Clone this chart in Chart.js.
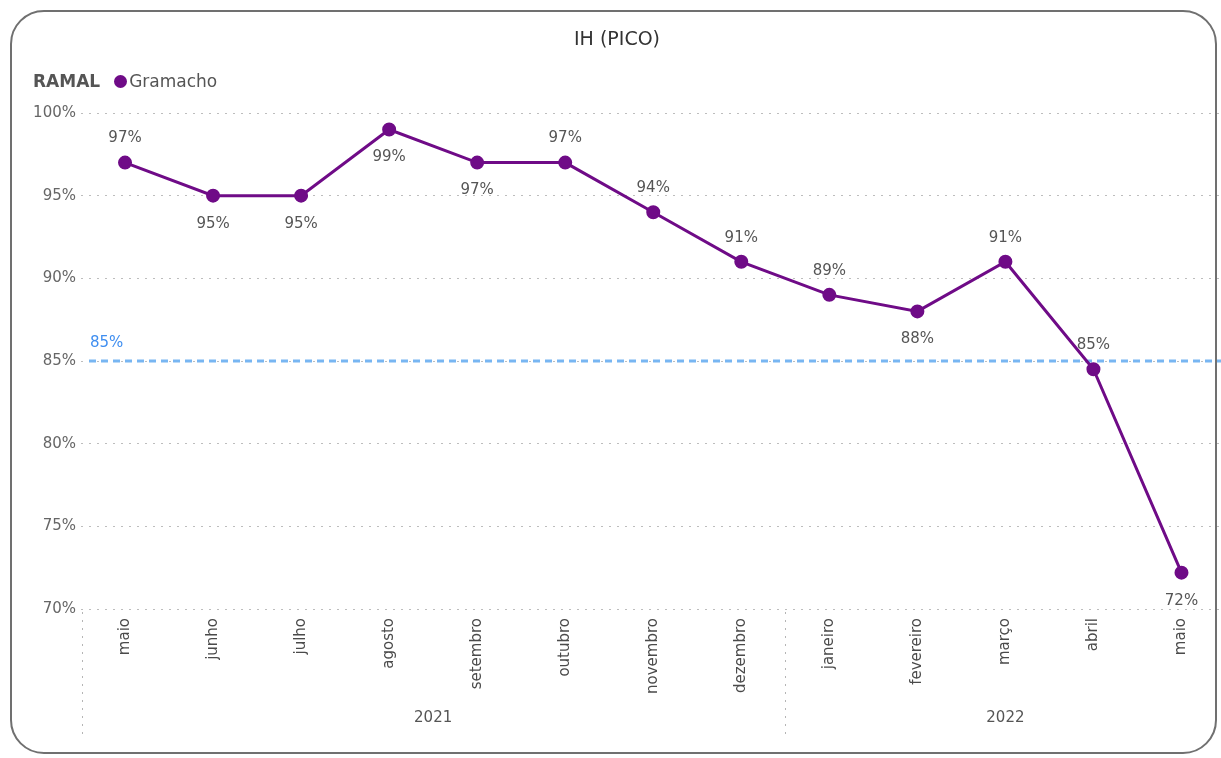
<!DOCTYPE html>
<html lang="pt-BR">
<head>
<meta charset="utf-8">
<title>IH (PICO)</title>
<script src="https://cdn.jsdelivr.net/npm/chart.js@4"></script>
<style>
    html, body { margin: 0; padding: 0; background: #fff; overflow: hidden; }
    #wrap { position: relative; width: 1221px; height: 758px; overflow: hidden; }
    #card {
        position: absolute; left: 10px; top: 10px; width: 1207px; height: 744px;
        border: 2px solid #707070; border-radius: 34px; box-sizing: border-box;
    }
    #legend {
        position: absolute; left: 33px; top: 71px; height: 20px;
        font: 17px "DejaVu Sans", sans-serif; color: #555; display: flex; align-items: center;
    }
    #legend b { color: #555; margin-right: 14px; }
    #legend .dot { width: 13px; height: 13px; border-radius: 50%; background: #6f0b87; margin-right: 2px; }
    #ihChart { position: absolute; left: 0; top: 0; }
</style>
</head>
<body>
<div id="wrap">
    <div id="card"></div>
    <canvas id="ihChart" width="1234" height="758"></canvas>
    <div id="legend"><b>RAMAL</b><span class="dot"></span><span>Gramacho</span></div>
</div>
<script>
    const months = ['maio', 'junho', 'julho', 'agosto', 'setembro', 'outubro', 'novembro', 'dezembro',
        'janeiro', 'fevereiro', 'março', 'abril', 'maio'];
    const years = ['2021', '2021', '2021', '2021', '2021', '2021', '2021', '2021',
        '2022', '2022', '2022', '2022', '2022'];
    const ihPico = [97, 95, 95, 99, 97, 97, 94, 91, 89, 88, 91, 84.5, 72.2];
    const metaValue = 85;
    const yTicks = [70, 75, 80, 85, 90, 95, 100];

    const FONT = '"DejaVu Sans", sans-serif';
    const PURPLE = '#6f0b87';

    // where each value label sits relative to its point
    const labelSide = ['up', 'down', 'down', 'down', 'down', 'up', 'up', 'up', 'up', 'down', 'up', 'up', 'down'];

    const pct = v => Math.round(v) + '%';

    const metaLine = {
        id: 'metaLine',
        beforeDatasetsDraw(chart) {
            const { ctx, chartArea, scales } = chart;
            const y = scales.y.getPixelForValue(metaValue);
            ctx.save();
            ctx.strokeStyle = '#78b6f2';
            ctx.lineWidth = 3;
            ctx.setLineDash([7, 5]);
            ctx.beginPath();
            ctx.moveTo(chartArea.left + 8, y);
            ctx.lineTo(chartArea.right, y);
            ctx.stroke();
            ctx.setLineDash([]);
            ctx.fillStyle = '#3f8ef0';
            ctx.font = '15px ' + FONT;
            ctx.textAlign = 'left';
            ctx.textBaseline = 'middle';
            ctx.fillText(pct(metaValue), chartArea.left + 9, y - 18);
            ctx.restore();
        }
    };

    const valueLabels = {
        id: 'valueLabels',
        afterDatasetsDraw(chart) {
            const { ctx } = chart;
            const points = chart.getDatasetMeta(0).data;
            ctx.save();
            ctx.fillStyle = '#555';
            ctx.font = '15px ' + FONT;
            ctx.textAlign = 'center';
            ctx.textBaseline = 'middle';
            points.forEach((p, i) => {
                const dy = labelSide[i] === 'up' ? -24 : 28;
                ctx.fillText(pct(ihPico[i]), p.x, p.y + dy);
            });
            ctx.restore();
        }
    };

    // second row of the x axis: year groups with dotted separators
    const yearAxis = {
        id: 'yearAxis',
        afterDraw(chart) {
            const { ctx, chartArea, scales } = chart;
            const x = scales.x;
            const groups = [];
            years.forEach((yr, i) => {
                const last = groups[groups.length - 1];
                if (last && last.year === yr) last.end = i;
                else groups.push({ year: yr, start: i, end: i });
            });
            ctx.save();
            ctx.strokeStyle = '#b5b5b5';
            ctx.lineWidth = 1;
            ctx.setLineDash([2, 6]);
            ctx.fillStyle = '#555';
            ctx.font = '15px ' + FONT;
            ctx.textAlign = 'center';
            ctx.textBaseline = 'middle';
            groups.forEach((g, gi) => {
                const cx = (x.getPixelForValue(g.start) + x.getPixelForValue(g.end)) / 2;
                ctx.fillText(g.year, cx, 718);
                const sx = gi === 0 ? chartArea.left + 1
                    : (x.getPixelForValue(g.start - 1) + x.getPixelForValue(g.start)) / 2;
                ctx.beginPath();
                ctx.moveTo(Math.round(sx) + 0.5, chartArea.bottom + 3);
                ctx.lineTo(Math.round(sx) + 0.5, 736);
                ctx.stroke();
            });
            ctx.restore();
        }
    };

    new Chart(document.getElementById('ihChart'), {
        type: 'line',
        data: {
            labels: months,
            datasets: [{
                label: 'Gramacho',
                data: ihPico,
                borderColor: PURPLE,
                backgroundColor: PURPLE,
                borderWidth: 3,
                pointRadius: 5.5,
                pointHoverRadius: 5.5,
                tension: 0
            }]
        },
        options: {
            responsive: false,
            animation: false,
            layout: { padding: { top: 113, left: 0, right: 0, bottom: 0 } },
            plugins: {
                legend: { display: false },
                title: { display: false },
                tooltip: { enabled: false }
            },
            scales: {
                x: {
                    offset: true,
                    grid: { display: false },
                    border: { display: false },
                    afterFit(scale) { scale.height = 149; },
                    ticks: {
                        autoSkip: false,
                        minRotation: 90,
                        maxRotation: 90,
                        padding: 1,
                        color: '#4a4a4a',
                        font: { family: FONT, size: 15 }
                    }
                },
                y: {
                    min: 70,
                    max: 100,
                    afterFit(scale) { scale.width = 81; },
                    afterBuildTicks(scale) { scale.ticks = yTicks.map(v => ({ value: v })); },
                    border: { display: false, dash: [2, 6] },
                    grid: {
                        color: '#bdbdbd',
                        lineWidth: 1,
                        drawTicks: false
                    },
                    ticks: {
                        padding: 5,
                        color: '#666',
                        font: { family: FONT, size: 15 },
                        callback: v => v + '%'
                    }
                }
            }
        },
        plugins: [metaLine, valueLabels, yearAxis]
    });

    // chart title, centred on the card
    (function () {
        const c = document.getElementById('ihChart').getContext('2d');
        c.save();
        c.fillStyle = '#333';
        c.font = '19px ' + FONT;
        c.textAlign = 'center';
        c.textBaseline = 'middle';
        c.fillText('IH (PICO)', 617, 40);
        c.restore();
    })();
</script>
</body>
</html>
